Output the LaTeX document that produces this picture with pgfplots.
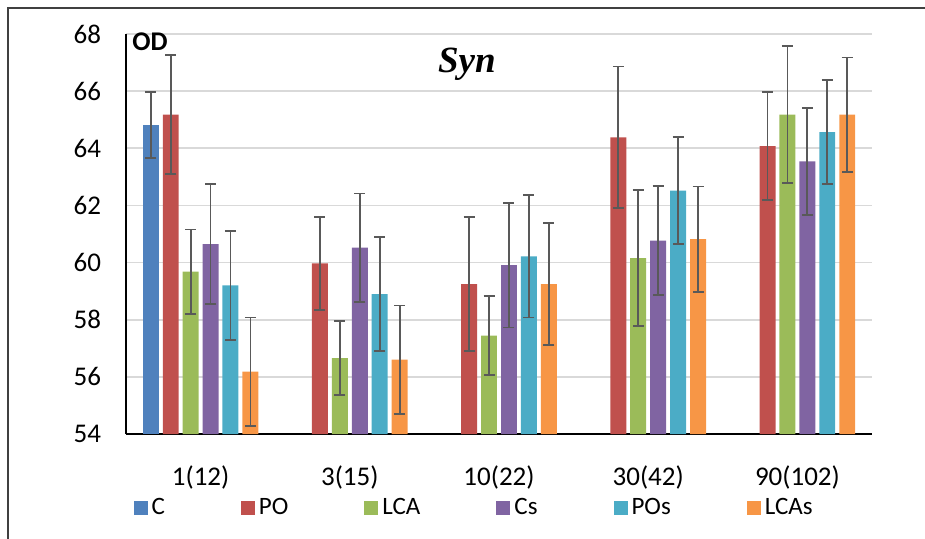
\documentclass[border=0pt]{standalone}
\usepackage{fontspec}
\setmainfont{Carlito}
\newfontfamily\titlefont{Liberation Serif}
\usepackage{pgfplots}
\pgfplotsset{compat=1.18}
\definecolor{cC}{HTML}{4F81BD}
\definecolor{cPO}{HTML}{C0504D}
\definecolor{cLCA}{HTML}{9BBB59}
\definecolor{cCs}{HTML}{8064A2}
\definecolor{cPOs}{HTML}{4BACC6}
\definecolor{cLCAs}{HTML}{F79646}
\definecolor{gridgray}{HTML}{D9D9D9}
\definecolor{errgray}{HTML}{595959}
\definecolor{framegray}{HTML}{404040}
\begin{document}
\begin{tikzpicture}
\useasboundingbox (-63pt,-52pt) rectangle (399.5pt,217pt);
\draw[framegray, line width=0.7pt] (-59pt,-53pt) -- (-59pt,213pt) -- (400pt,213pt);
\begin{axis}[
  at={(0,0)}, anchor=south west,
  width=373pt, height=200pt, scale only axis,
  xmin=-0.5, xmax=4.5, ymin=54, ymax=68,
  ytick={54,56,...,68},
  xtick={0,1,2,3,4},
  xticklabels={1(12),3(15),10(22),30(42),90(102)},
  major tick length=0pt,
  axis x line*=bottom, axis y line*=left,
  axis line style={black, line width=1pt},
  ymajorgrids, major grid style={gridgray, line width=0.8pt},
  /pgf/number format/assume math mode=true,
  tick label style={font=\fontsize{13.5}{15}\selectfont},
  yticklabel style={anchor=east, xshift=-9pt},
  xticklabel style={anchor=center, yshift=-21.5pt},
  clip mode=individual,
  ybar, bar width=0.107,
  error bars/y dir=both, error bars/y explicit,
  error bars/error bar style={errgray, line width=0.9pt},
  error bars/error mark options={errgray, rotate=90, mark size=2.75pt, line width=0.9pt},
  legend columns=6,
  legend style={draw=none, fill=none, at={(0.468,-0.185)}, anchor=center,
    font=\fontsize{12.5}{14}\selectfont,
    /tikz/every even column/.append style={column sep=36pt}},
  legend image code/.code={\fill[#1] (0pt,-3.3pt) rectangle (7pt,3.3pt);},
]
\addplot[fill=cC, draw=none, bar shift=-0.334] coordinates {(0,64.81) +- (0,1.15)};
\addplot[fill=cPO, draw=none, bar shift=-0.200] coordinates {
 (0,65.18) +- (0,2.08) (1,59.97) +- (0,1.63) (2,59.25) +- (0,2.35) (3,64.38) +- (0,2.48) (4,64.08) +- (0,1.90)};
\addplot[fill=cLCA, draw=none, bar shift=-0.067] coordinates {
 (0,59.68) +- (0,1.48) (1,56.66) +- (0,1.30) (2,57.44) +- (0,1.38) (3,60.16) +- (0,2.38) (4,65.18) +- (0,2.39)};
\addplot[fill=cCs, draw=none, bar shift=0.067] coordinates {
 (0,60.65) +- (0,2.09) (1,60.52) +- (0,1.90) (2,59.91) +- (0,2.18) (3,60.77) +- (0,1.91) (4,63.54) +- (0,1.87)};
\addplot[fill=cPOs, draw=none, bar shift=0.200] coordinates {
 (0,59.20) +- (0,1.90) (1,58.90) +- (0,2.00) (2,60.22) +- (0,2.14) (3,62.52) +- (0,1.88) (4,64.57) +- (0,1.81)};
\addplot[fill=cLCAs, draw=none, bar shift=0.334] coordinates {
 (0,56.18) +- (0,1.90) (1,56.60) +- (0,1.90) (2,59.25) +- (0,2.14) (3,60.82) +- (0,1.84) (4,65.18) +- (0,2.00)};
\legend{C,PO,LCA,Cs,POs,LCAs}
\node[anchor=west, font=\bfseries\fontsize{13.5}{15}\selectfont, inner sep=0pt] at (rel axis cs:0.008,0.98) {OD};
\node[anchor=base, font=\titlefont\bfseries\itshape\fontsize{18.5}{20}\selectfont, inner sep=0pt] at (rel axis cs:0.457,0.905) {Syn};
\end{axis}
\end{tikzpicture}
\end{document}
